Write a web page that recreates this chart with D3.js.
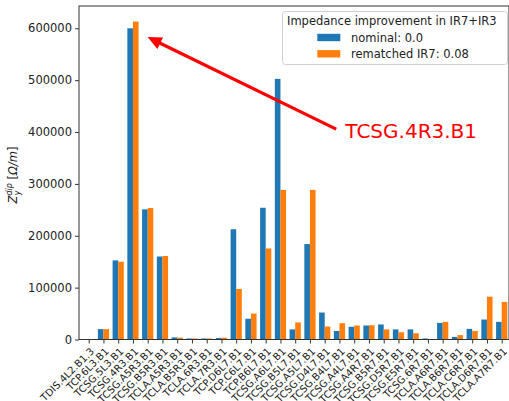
<!DOCTYPE html>
<html>
<head>
<meta charset="utf-8">
<script src="https://cdnjs.cloudflare.com/ajax/libs/d3/7.8.5/d3.min.js"></script>
<style>
  html, body { margin: 0; padding: 0; background: #fff; }
  svg { display: block; font-family: "DejaVu Sans", sans-serif; }
</style>
</head>
<body>
<svg id="chart" width="509" height="401"></svg>
<script>
// Collimators along the ring
const categories = [
  "TDIS.4L2.B1.3", "TCP.6L3.B1", "TCSG.5L3.B1", "TCSG.4R3.B1", "TCSG.A5R3.B1",
  "TCSG.B5R3.B1", "TCLA.A5R3.B1", "TCLA.B5R3.B1", "TCLA.6R3.B1", "TCLA.7R3.B1",
  "TCP.D6L7.B1", "TCP.C6L7.B1", "TCP.B6L7.B1", "TCSG.A6L7.B1", "TCSG.B5L7.B1",
  "TCSG.A5L7.B1", "TCSG.D4L7.B1", "TCSG.B4L7.B1", "TCSG.A4L7.B1", "TCSG.A4R7.B1",
  "TCSG.B5R7.B1", "TCSG.D5R7.B1", "TCSG.E5R7.B1", "TCSG.6R7.B1", "TCLA.A6R7.B1",
  "TCLA.B6R7.B1", "TCLA.C6R7.B1", "TCLA.D6R7.B1", "TCLA.A7R7.B1"
];

// Vertical dipolar impedance contribution [Ohm/m]
const nominal = [
  300, 20000, 152500, 600000, 251000,
  160000, 4000, 2000, 2000, 3000,
  212500, 40000, 254000, 502500, 19500,
  184000, 52000, 16500, 24500, 27000,
  29000, 19500, 19500, 2000, 32000,
  5000, 20500, 38500, 34000
];
const rematched = [
  300, 20000, 150000, 613000, 253500,
  161000, 3500, 2000, 2000, 3500,
  97500, 50000, 175500, 288500, 33000,
  288500, 25000, 31500, 27000, 27500,
  19500, 14000, 12000, 1000, 34000,
  8500, 16500, 82500, 72500
];

const seriesNames = ["nominal: 0.0", "rematched IR7: 0.08"];
const seriesColors = ["#1f77b4", "#ff7f0e"];
const yTicks = [0, 100000, 200000, 300000, 400000, 500000, 600000];
const legendTitle = "Impedance improvement in IR7+IR3";
const annotationLabel = "TCSG.4R3.B1";

const svg = d3.select("#chart");

// axes box
const axLeft = 79, axRight = 509, axTop = 6, axBottom = 339.5;
const barW = 0.38;

const x = d3.scaleLinear().domain([-0.658, 28.495]).range([axLeft, axRight]);
const y = d3.scaleLinear().domain([0, 643000]).range([axBottom, axTop]);

const fs = 11.5;
const fsX = 10;

// bars
const series = [nominal, rematched];
series.forEach((vals, s) => {
  svg.append("g").selectAll("rect").data(vals).join("rect")
    .attr("x", (d, i) => x(i + (s === 0 ? -barW : 0)))
    .attr("width", x(barW) - x(0))
    .attr("y", d => y(d))
    .attr("height", d => y(0) - y(d))
    .attr("fill", seriesColors[s]);
});

// y axis
const yAxis = d3.axisLeft(y).tickValues(yTicks).tickSize(4).tickPadding(3)
  .tickFormat(d3.format("d"));
const gy = svg.append("g").attr("transform", `translate(${axLeft},0)`).call(yAxis);
gy.select(".domain").remove();
gy.selectAll(".tick line").attr("stroke", "#333");
gy.selectAll(".tick text").attr("font-size", fs).attr("fill", "#222")
  .attr("font-family", "DejaVu Sans");

// x axis, labels rotated 45 degrees and ending at their tick
const xAxis = d3.axisBottom(x).tickValues(d3.range(categories.length)).tickSize(4)
  .tickFormat(i => categories[i]);
const gx = svg.append("g").attr("transform", `translate(0,${axBottom})`).call(xAxis);
gx.select(".domain").remove();
gx.selectAll(".tick line").attr("stroke", "#333");
gx.selectAll(".tick text")
  .attr("font-size", fsX).attr("fill", "#222").attr("font-family", "DejaVu Sans")
  .attr("text-anchor", "end")
  .attr("y", 0).attr("dy", 0)
  .attr("transform", "translate(5.5,12.5) rotate(-45)");

// frame
svg.append("rect").attr("x", axLeft).attr("y", axTop)
  .attr("width", axRight - axLeft).attr("height", axBottom - axTop)
  .attr("fill", "none").attr("stroke", "#333").attr("stroke-width", 1);

// y label
const yl = svg.append("text")
  .attr("transform", `translate(17,175) rotate(-90)`)
  .attr("text-anchor", "middle").attr("font-size", fs).attr("fill", "#222");
yl.append("tspan").attr("font-style", "italic").text("Z");
yl.append("tspan").attr("font-style", "italic").attr("font-size", 8).attr("dy", -5).text("dip");
yl.append("tspan").attr("font-style", "italic").attr("font-size", 8).attr("dx", -12).attr("dy", 8).text("y");
yl.append("tspan").attr("dx", 11).attr("dy", -3).text("[");
yl.append("tspan").attr("font-style", "italic").text("Ω/m");
yl.append("tspan").text("]");

// annotation arrow: from label towards the highest bar
const tip = [x(3.995), y(583000)];
const tail = [x(16.78), y(405500)];
const ang = Math.atan2(tip[1] - tail[1], tip[0] - tail[0]);
const headL = 14, headW = 6.5, shaft = 1.6;
const ux = Math.cos(ang), uy = Math.sin(ang), px = -uy, py = ux;
const baseX = tip[0] - ux * headL, baseY = tip[1] - uy * headL;
const arrowPts = [
  [tail[0] + px * shaft, tail[1] + py * shaft],
  [baseX + px * shaft, baseY + py * shaft],
  [baseX + px * headW, baseY + py * headW],
  tip,
  [baseX - px * headW, baseY - py * headW],
  [baseX - px * shaft, baseY - py * shaft],
  [tail[0] - px * shaft, tail[1] - py * shaft]
];
svg.append("path").attr("d", d3.line()(arrowPts) + "Z").attr("fill", "#ff0000");

svg.append("text").attr("x", x(17.4)).attr("y", 137.5)
  .attr("font-size", 20).attr("fill", "#ff0000").text(annotationLabel);

// legend
const lg = svg.append("g");
lg.append("rect").attr("x", 282.5).attr("y", 11.5).attr("width", 225).attr("height", 53)
  .attr("rx", 3).attr("fill", "#fff").attr("fill-opacity", 0.85)
  .attr("stroke", "#d0d0d0").attr("stroke-width", 1);
lg.append("text").attr("x", 287).attr("y", 25).attr("font-size", fs).attr("fill", "#222")
  .text(legendTitle);
seriesNames.forEach((name, s) => {
  const cy = 37.5 + s * 16.3;
  lg.append("rect").attr("x", 317.3).attr("y", cy - 3.7).attr("width", 23).attr("height", 7.4)
    .attr("fill", seriesColors[s]);
  lg.append("text").attr("x", 351).attr("y", cy).attr("dy", "0.35em")
    .attr("font-size", fs).attr("fill", "#222").text(name);
});
</script>
</body>
</html>
